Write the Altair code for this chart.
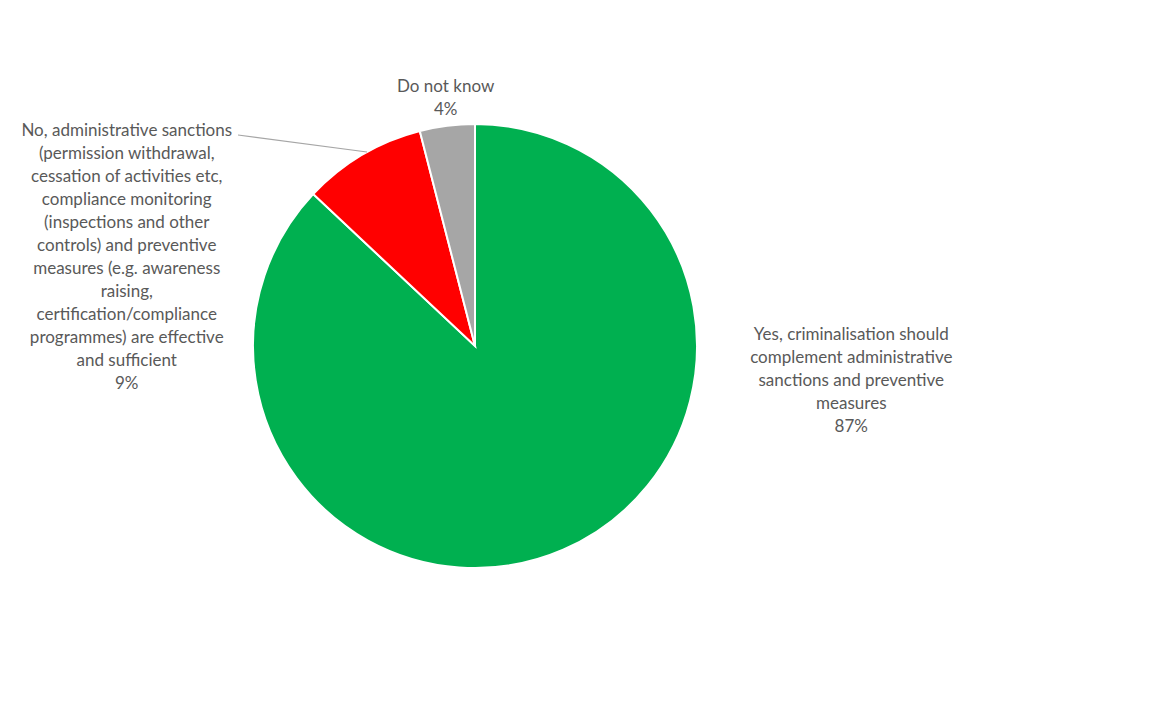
import altair as alt
import pandas as pd

# Survey answers, in clockwise order starting at 12 o'clock
answers = ["Yes", "No", "Do not know"]
shares = [87, 9, 4]
order = [1, 2, 3]
colors = ["#00B050", "#FF0000", "#A6A6A6"]
labels = [
    "Yes, criminalisation should\ncomplement administrative\nsanctions and preventive\nmeasures\n87%",
    "No, administrative sanctions\n(permission withdrawal,\ncessation of activities etc,\ncompliance monitoring\n(inspections and other\ncontrols) and preventive\nmeasures (e.g. awareness\nraising,\ncertification/compliance\nprogrammes) are effective\nand sufficient\n9%",
    "Do not know\n4%",
]

df = pd.DataFrame({"answer": answers, "share": shares, "order": order, "label": labels})

color_scale = alt.Scale(domain=answers, range=colors)
theta_scale = alt.Scale(domain=[0, 100])

pie = alt.Chart(df).mark_arc(outerRadius=222, stroke="white", strokeWidth=2).encode(
    theta=alt.Theta("share:Q", stack=True, scale=theta_scale),
    order=alt.Order("order:Q"),
    color=alt.Color("answer:N", scale=color_scale, legend=None),
)

text_style = dict(
    font="Lato",
    fontSize=17,
    color="#595959",
    lineHeight=23,
    align="center",
    baseline="middle",
    lineBreak="\n",
    radius=250,
)

# Mid-angle of each slice, computed before a single label is picked out
label_base = alt.Chart(df).transform_window(
    cum="sum(share)", sort=[alt.SortField("order")]
).transform_calculate(mid="datum.cum - datum.share / 2")

# Each label is anchored at its slice's mid-angle, then nudged into place
offsets = {"Yes": (277, -240), "No": (-221, 0), "Do not know": (2, -11)}
label_layers = []
for name in answers:
    dx, dy = offsets[name]
    label_layers.append(
        label_base.transform_filter(alt.datum.answer == name)
        .mark_text(dx=dx, dy=dy, **text_style)
        .encode(
            theta=alt.Theta("mid:Q", stack=None, scale=theta_scale),
            text="label:N",
        )
    )

# Leader line from the "No" label to its slice
leader = alt.Chart(df).transform_filter(alt.datum.answer == "No").mark_rule(
    color="#A6A6A6", strokeWidth=1.2
).encode(x=alt.value(238), y=alt.value(135), x2=alt.value(367), y2=alt.value(152))

chart = alt.layer(pie, *label_layers, leader).properties(
    width=950,
    height=692,
    padding={"left": 0, "top": 0, "right": 214, "bottom": 27},
    autosize=alt.AutoSizeParams(type="none"),
).configure_view(stroke=None)

chart.save("out.html", embed_options={"renderer": "svg", "actions": False})
